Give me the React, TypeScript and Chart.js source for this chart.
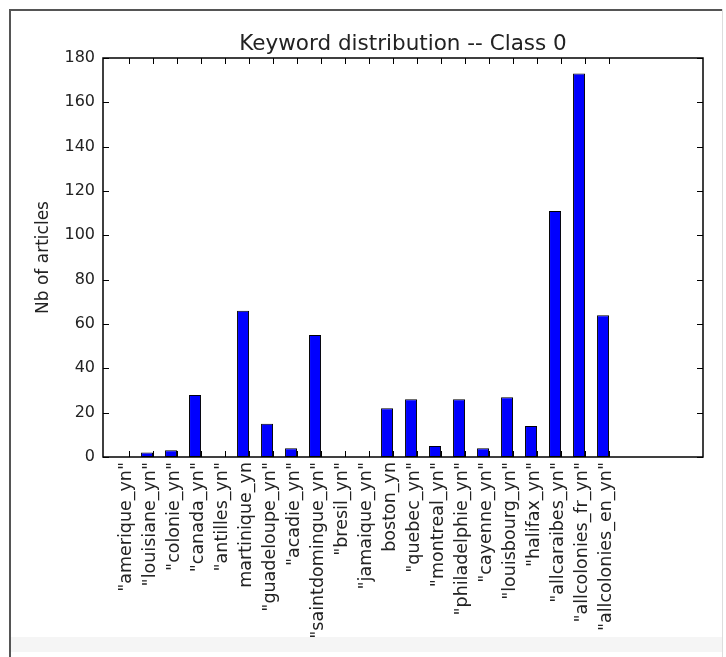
import { useEffect, useRef } from "react";
import { Chart, registerables } from "chart.js";

Chart.register(...registerables);

// Keyword columns, in plotting order
const keywords = [
  '"amerique_yn"',
  '"louisiane_yn"',
  '"colonie_yn"',
  '"canada_yn"',
  '"antilles_yn"',
  "martinique_yn",
  '"guadeloupe_yn"',
  '"acadie_yn"',
  '"saintdomingue_yn"',
  '"bresil_yn"',
  '"jamaique_yn"',
  "boston_yn",
  '"quebec_yn"',
  '"montreal_yn"',
  '"philadelphie_yn"',
  '"cayenne_yn"',
  '"louisbourg_yn"',
  '"halifax_yn"',
  '"allcaraibes_yn"',
  '"allcolonies_fr_yn"',
  '"allcolonies_en_yn"',
];

// Number of class-0 articles mentioning each keyword
const articleCounts = [0, 2, 3, 28, 0, 66, 15, 4, 55, 0, 0, 22, 26, 5, 26, 4, 27, 14, 111, 173, 64];

const yTickValues = [0, 20, 40, 60, 80, 100, 120, 140, 160, 180];

const chartTitle = "Keyword distribution -- Class 0";
const yAxisTitle = "Nb of articles";

const FONT = "'DejaVu Sans', sans-serif";
const TEXT = "#222";

// matplotlib-style frame with inward tick marks on all four sides,
// plus the title centred over the plotting area
const frameTicks = {
  id: "frameTicks",
  afterDraw(chart: any) {
    const { ctx, chartArea: a, scales } = chart;
    const xs = scales.x;
    const ys = scales.y;
    const len = 6;
    ctx.save();
    ctx.strokeStyle = "#000";
    ctx.lineWidth = 1;
    ctx.beginPath();
    xs.ticks.forEach((t: any) => {
      const px = Math.round(xs.getPixelForValue(t.value)) + 0.5;
      ctx.moveTo(px, a.bottom);
      ctx.lineTo(px, a.bottom - len);
      ctx.moveTo(px, a.top);
      ctx.lineTo(px, a.top + len);
    });
    ys.ticks.forEach((t: any) => {
      const py = Math.round(ys.getPixelForValue(t.value)) + 0.5;
      ctx.moveTo(a.left, py);
      ctx.lineTo(a.left + len, py);
      ctx.moveTo(a.right, py);
      ctx.lineTo(a.right - len, py);
    });
    ctx.stroke();
    ctx.lineWidth = 1.5;
    ctx.strokeRect(a.left, a.top, a.right - a.left, a.bottom - a.top);

    ctx.fillStyle = TEXT;
    ctx.font = `21.5px ${FONT}`;
    ctx.textAlign = "center";
    ctx.textBaseline = "alphabetic";
    ctx.fillText(chartTitle, (a.left + a.right) / 2, a.top - 8);
    ctx.restore();
  },
};

export default function App() {
  const canvasRef = useRef<HTMLCanvasElement | null>(null);

  useEffect(() => {
    if (!canvasRef.current) return;
    // bars sit just left of their tick, right edge on the tick
    const points = articleCounts.map((v, i) => ({ x: i - 0.25, y: v }));
    const chart = new Chart(canvasRef.current, {
      type: "bar",
      data: {
        datasets: [
          {
            data: points as any,
            backgroundColor: "#0000ff",
            borderColor: "#000000",
            borderWidth: 1,
            borderSkipped: false,
            barPercentage: 0.5,
            categoryPercentage: 1,
          },
        ],
      },
      options: {
        animation: false,
        responsive: true,
        maintainAspectRatio: false,
        layout: { padding: { left: 0, right: 23, top: 58, bottom: 0 } },
        plugins: {
          legend: { display: false },
          tooltip: { enabled: false },
          title: { display: false },
        },
        scales: {
          x: {
            type: "linear",
            min: -1.085,
            max: 23.915,
            offset: false,
            grid: { display: false, drawTicks: false },
            border: { display: false },
            afterBuildTicks: (s: any) => {
              s.ticks = keywords.map((_, i) => ({ value: i }));
            },
            afterFit: (s: any) => {
              s.height = 200;
            },
            ticks: {
              autoSkip: false,
              minRotation: 90,
              maxRotation: 90,
              padding: 5,
              labelOffset: -3,
              color: TEXT,
              font: { family: FONT, size: 17.5 },
              callback: (v: any) => keywords[v as number] ?? "",
            },
          },
          y: {
            type: "linear",
            min: 0,
            max: 180,
            grid: { display: false, drawTicks: false },
            border: { display: false },
            afterBuildTicks: (s: any) => {
              s.ticks = yTickValues.map((v) => ({ value: v }));
            },
            afterFit: (s: any) => {
              s.width = 103;
            },
            ticks: {
              padding: 8,
              color: TEXT,
              font: { family: FONT, size: 16 },
            },
            title: {
              display: true,
              text: yAxisTitle,
              color: TEXT,
              font: { family: FONT, size: 17 },
              padding: { top: 33, bottom: 0 },
            },
          },
        },
      },
      plugins: [frameTicks],
    });
    return () => chart.destroy();
  }, []);

  return (
    <div
      style={{
        position: "fixed",
        left: 0,
        top: 0,
        width: 726,
        height: 657,
        background: "#fff",
        overflow: "hidden",
      }}
    >
      <div style={{ position: "absolute", left: 11, top: 637, width: 711, height: 15, background: "#f5f5f5" }} />
      <div style={{ position: "absolute", left: 9, top: 9, width: 2, height: 648, background: "#555" }} />
      <div style={{ position: "absolute", left: 9, top: 9, width: 714, height: 2, background: "#555" }} />
      <div style={{ position: "absolute", left: 722, top: 9, width: 1, height: 648, background: "#ddd" }} />
      <canvas ref={canvasRef} style={{ position: "absolute", left: 0, top: 0, width: 726, height: 657 }} />
    </div>
  );
}
